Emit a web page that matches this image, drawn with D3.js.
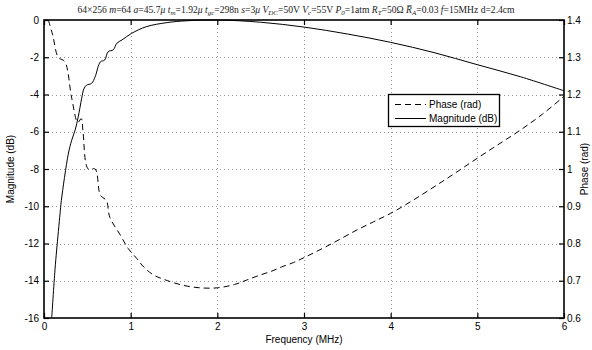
<!DOCTYPE html>
<html>
<head>
<meta charset="utf-8">
<script src="https://cdn.jsdelivr.net/npm/d3@7"></script>
<style>
  body { margin: 0; background: #fff; }
  svg text { font-family: "Liberation Sans", Arial, sans-serif; }
</style>
</head>
<body>
<svg id="chart" width="592" height="350"></svg>
<script>
// frequency (MHz) / magnitude (dB)
var magFreq = [0.089, 0.127, 0.146, 0.185, 0.20, 0.28, 0.32, 0.36, 0.395, 0.435, 0.46, 0.49, 0.55, 0.59, 0.65, 0.70, 0.74, 0.80, 0.84, 0.90, 1.01, 1.18, 1.42, 1.65, 2.0, 2.5, 3.0, 3.5, 4.0, 4.5, 5.0, 5.5, 6.0];
var magDb   = [-16, -13.4, -12.35, -10.4, -9.7, -7.2, -6.45, -5.9, -5.2, -4.2, -3.7, -3.5, -3.4, -3.05, -2.25, -2.15, -1.7, -1.6, -1.25, -1.07, -0.72, -0.36, -0.14, -0.04, 0, -0.12, -0.38, -0.75, -1.2, -1.75, -2.4, -3.05, -3.8];

// frequency (MHz) / phase (rad)
var phFreq = [0.05, 0.10, 0.165, 0.24, 0.32, 0.39, 0.43, 0.45, 0.51, 0.59, 0.65, 0.72, 0.76, 0.88, 0.97, 1.07, 1.15, 1.26, 1.38, 1.6, 1.8, 2.0, 2.2, 2.34, 2.49, 2.63, 2.74, 2.88, 3.0, 3.13, 3.34, 3.6, 3.8, 4.0, 4.25, 4.5, 4.75, 5.0, 5.25, 5.5, 5.75, 6.0];
var phRad  = [1.40, 1.36, 1.30, 1.288, 1.19, 1.125, 1.135, 1.10, 1.00, 1.00, 0.93, 0.915, 0.87, 0.823, 0.787, 0.76, 0.737, 0.716, 0.704, 0.688, 0.681, 0.681, 0.69, 0.702, 0.715, 0.726, 0.737, 0.749, 0.762, 0.777, 0.802, 0.835, 0.858, 0.881, 0.915, 0.952, 0.99, 1.029, 1.067, 1.105, 1.147, 1.195];

var xTicks = [0, 1, 2, 3, 4, 5, 6];
var leftTicks = [0, -2, -4, -6, -8, -10, -12, -14, -16];
var rightTicks = [0.6, 0.7, 0.8, 0.9, 1, 1.1, 1.2, 1.3, 1.4];

var svg = d3.select("#chart");
var L = 44, R = 564, T = 20, B = 318;

var x = d3.scaleLinear().domain([0, 6]).range([L, R]);
var yL = d3.scaleLinear().domain([-16, 0]).range([B, T]);
var yR = d3.scaleLinear().domain([0.6, 1.4]).range([B, T]);

/* grid */
var grid = svg.append("g").attr("stroke", "#999").attr("stroke-width", 1).attr("stroke-dasharray", "1,3");
grid.selectAll("line.gx").data(xTicks.slice(1, -1)).enter().append("line")
  .attr("x1", function(d) { return Math.round(x(d)) + 0.5; })
  .attr("x2", function(d) { return Math.round(x(d)) + 0.5; })
  .attr("y1", T).attr("y2", B);
grid.selectAll("line.gy").data(leftTicks.slice(1, -1)).enter().append("line")
  .attr("y1", function(d) { return Math.round(yL(d)) + 0.5; })
  .attr("y2", function(d) { return Math.round(yL(d)) + 0.5; })
  .attr("x1", L).attr("x2", R);

/* curves */
var magLine = d3.line().curve(d3.curveCatmullRom.alpha(0.5))
  .x(function(d, i) { return x(magFreq[i]); })
  .y(function(d) { return yL(d); });
var phLine = d3.line().curve(d3.curveCatmullRom.alpha(0.5))
  .x(function(d, i) { return x(phFreq[i]); })
  .y(function(d) { return yR(d); });

svg.append("path").attr("d", phLine(phRad))
  .attr("fill", "none").attr("stroke", "#000").attr("stroke-width", 1).attr("stroke-dasharray", "6,4");
svg.append("path").attr("d", magLine(magDb))
  .attr("fill", "none").attr("stroke", "#000").attr("stroke-width", 1);

/* axes: ticks inside, like matlab */
var gB = svg.append("g").attr("transform", "translate(0," + B + ")")
  .call(d3.axisBottom(x).tickValues(xTicks).tickSize(-5).tickPadding(5).tickFormat(d3.format("d")));
var gT = svg.append("g").attr("transform", "translate(0," + T + ")")
  .call(d3.axisTop(x).tickValues(xTicks).tickSize(-5).tickFormat(""));
var gL = svg.append("g").attr("transform", "translate(" + L + ",0)")
  .call(d3.axisLeft(yL).tickValues(leftTicks).tickSize(-5).tickPadding(5).tickFormat(function(d) { return String(d); }));
var gR = svg.append("g").attr("transform", "translate(" + R + ",0)")
  .call(d3.axisRight(yR).tickValues(rightTicks).tickSize(-5).tickPadding(3).tickFormat(function(d) { return String(d); }));

[gB, gT, gL, gR].forEach(function(g) {
  g.select(".domain").remove();
  g.selectAll(".tick line").attr("stroke", "#000").attr("stroke-width", 1.2);
  g.selectAll("text").attr("font-size", 10).attr("fill", "#000")
    .attr("font-family", "Liberation Sans, Arial, sans-serif");
});

/* box */
svg.append("rect").attr("x", L).attr("y", T).attr("width", R - L).attr("height", B - T)
  .attr("fill", "none").attr("stroke", "#000").attr("stroke-width", 1.6);

/* axis labels */
svg.append("text").attr("x", (L + R) / 2).attr("y", 343).attr("text-anchor", "middle")
  .attr("font-size", 10).text("Frequency (MHz)");
svg.append("text").attr("transform", "translate(14," + ((T + B) / 2) + ") rotate(-90)")
  .attr("text-anchor", "middle").attr("font-size", 10).text("Magnitude (dB)");
svg.append("text").attr("transform", "translate(588," + ((T + B) / 2) + ") rotate(-90)")
  .attr("text-anchor", "middle").attr("font-size", 10).text("Phase (rad)");

/* legend */
var lg = svg.append("g");
lg.append("rect").attr("x", 388.5).attr("y", 94.5).attr("width", 111).attr("height", 32)
  .attr("fill", "#fff").attr("stroke", "#000").attr("stroke-width", 1.3);
lg.append("line").attr("x1", 395).attr("x2", 426).attr("y1", 104.5).attr("y2", 104.5)
  .attr("stroke", "#000").attr("stroke-dasharray", "6,4");
lg.append("line").attr("x1", 395).attr("x2", 426).attr("y1", 118.5).attr("y2", 118.5)
  .attr("stroke", "#000");
lg.append("text").attr("x", 429).attr("y", 108).attr("font-size", 10).text("Phase (rad)");
lg.append("text").attr("x", 429).attr("y", 122).attr("font-size", 10).text("Magnitude (dB)");

/* title, LaTeX-ish */
var parts = [
  ["64×256 ", ""], ["m", "i"], ["=64 ", ""], ["a", "i"], ["=45.7", ""], ["μ", "i"], [" ", ""],
  ["t", "i"], ["m", "s"], ["=1.92", ""], ["μ", "i"], [" ", ""],
  ["t", "i"], ["gc", "s"], ["=298n ", ""], ["s", "i"], ["=3", ""], ["μ", "i"], [" ", ""],
  ["V", "i"], ["DC", "s"], ["=50V ", ""], ["V", "i"], ["c", "s"], ["=55V ", ""],
  ["P", "i"], ["0", "s"], ["=1atm ", ""], ["R", "i"], ["T", "s"], ["=50Ω ", ""],
  ["R̅", "i"], ["A", "s"], ["=0.03 ", ""], ["f", "i"], ["=15MHz d=2.4cm", ""]
];
var title = svg.append("text").attr("x", 296).attr("y", 13).attr("text-anchor", "middle")
  .attr("font-size", 9.6).style("font-family", "'Liberation Serif', 'DejaVu Serif', serif").attr("fill", "#222");
parts.forEach(function(p) {
  var t = title.append("tspan").text(p[0]);
  if (p[1] == "i") t.attr("font-style", "italic");
  if (p[1] == "s") t.attr("font-style", "italic").attr("font-size", 7).attr("baseline-shift", "-25%");
});
</script>
</body>
</html>
